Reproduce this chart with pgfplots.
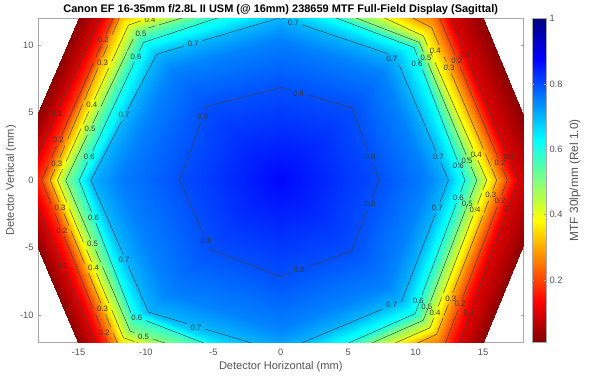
\documentclass[border=0pt]{standalone}
\usepackage{fontspec}
\setmainfont{Liberation Sans}
\usepackage{pgfplots}
\usepackage{pgfplotstable}
\pgfplotsset{compat=1.18}
\definecolor{axgray}{gray}{0.66}
\definecolor{txtgray}{gray}{0.33}
% rings: T TR R BR B BL L TL T
\pgfplotstableread{
x y z
0 0 0.87
0 0 0.87
0 0 0.87
0 0 0.87
0 0 0.87
0 0 0.87
0 0 0.87
0 0 0.87
0 0 0.87
0 6.88 0.8
5.26 5.4 0.8
7.3 0 0.8
5.26 -5.25 0.8
0 -7.15 0.8
-5.24 -5.12 0.8
-7.5 0 0.8
-5.5 5.47 0.8
0 6.88 0.8
0 10.51 0.75
7.53 8.06 0.75
10.89 0 0.75
7.86 -7.85 0.75
0 -11.05 0.75
-8.44 -8.38 0.75
-12.11 0 0.75
-8.09 8.19 0.75
0 10.51 0.75
0 12.07 0.7
8.5 9.2 0.7
12.43 0 0.7
8.97 -8.96 0.7
0 -12.72 0.7
-9.81 -9.78 0.7
-14.08 0 0.7
-9.2 9.35 0.7
0 12.07 0.7
0 13.6 0.6
9.88 9.85 0.6
13.66 0 0.6
9.96 -9.9 0.6
0 -14.3 0.6
-11.05 -10.0 0.6
-14.95 0 0.6
-10.18 10.22 0.6
0 13.6 0.6
0 14.2 0.5
10.28 10.22 0.5
14.53 0 0.5
10.57 -10.39 0.5
0 -15.05 0.5
-11.17 -11.19 0.5
-15.94 0 0.5
-10.68 11.04 0.5
0 14.2 0.5
0 15.6 0.4
10.57 10.71 0.4
15.27 0 0.4
11.07 -10.94 0.4
0 -15.8 0.4
-11.67 -11.68 0.4
-16.56 0 0.4
-11.3 11.5 0.4
0 15.6 0.4
0 17 0.3
11.19 11.33 0.3
16.01 0 0.3
11.56 -11.43 0.3
0 -16.7 0.3
-11.9 -12.6 0.3
-17.1 0 0.3
-11.9 12.2 0.3
0 17 0.3
0 19 0.2
11.3 13.2 0.2
16.8 0 0.2
11.9 -12.9 0.2
0 -18.7 0.2
-12.1 -14 0.2
-17.74 0 0.2
-12 13 0.2
0 19 0.2
0 21 0.1
11.78 14 0.1
17.6 0 0.1
12.5 -14.2 0.1
0 -21 0.1
-12.8 -14.2 0.1
-18.9 0 0.1
-12.5 14 0.1
0 21 0.1
0 23 0.02
13.5 15.6 0.02
20 0 0.02
13.5 -15.6 0.02
0 -23 0.02
-13.5 -15.7 0.02
-20.14 0 0.02
-13.5 15.5 0.02
0 23 0.02
}\ringtable
\newcommand{\ringline}[1]{\addplot[black!75,line width=0.45pt,forget plot] coordinates {#1};}
\newcommand{\lbl}[3]{\node[font=\fontsize{7.8}{9}\selectfont,text=black!78,inner sep=0pt] at (axis cs:#1,#2) {#3};}
\newcommand{\hole}[2]{(axis cs:#1-0.68,#2-0.42) rectangle (axis cs:#1+0.68,#2+0.42)}
\begin{document}
\begin{tikzpicture}[x=1bp,y=1bp]
\path[use as bounding box] (0,0) rectangle (600,375);
\begin{axis}[
  at={(38bp,33bp)},anchor=south west,
  scale only axis,width=485.5bp,height=323.5bp,
  xmin=-18,xmax=18,ymin=-12,ymax=12,
  xtick={-15,-10,-5,0,5,10,15},ytick={-10,-5,0,5,10},
  xticklabels={-15,-10,-5,0,5,10,15},yticklabels={-10,-5,0,5,10},
  tick align=inside,major tick length=3bp,
  tick style={axgray,line width=0.5pt},
  axis line style={axgray,line width=0.9pt},
  tick label style={font=\fontsize{9.3}{10}\selectfont,text=txtgray},
  xticklabel style={yshift=-3.5bp},
  yticklabel style={xshift=-1bp},
  title={\fontsize{11}{12}\selectfont\bfseries Canon EF 16-35mm f/2.8L II USM (@ 16mm) 238659 MTF Full-Field Display (Sagittal)},
  title style={at={(0.5,1)},anchor=south,yshift=-3bp,inner sep=0pt},
  xlabel={Detector Horizontal (mm)},ylabel={Detector Vertical (mm)},
  label style={font=\fontsize{11.1}{12}\selectfont,text=txtgray},
  xlabel style={at={(0.5,0)},anchor=center,yshift=-25bp},
  ylabel style={at={(0,0.5)},anchor=center,yshift=27bp},
  colormap={rjet}{rgb255(0cm)=(128,0,0); rgb255(1cm)=(255,0,0); rgb255(3cm)=(255,255,0); rgb255(5cm)=(0,255,255); rgb255(7cm)=(0,0,255); rgb255(8cm)=(0,0,128)},
  point meta min=0.01,point meta max=1,
  colorbar,
  colorbar style={
    at={(1.0175,0)},anchor=south west,width=14bp,height=323.5bp,
    ytick={0.2,0.4,0.6,0.8,1},yticklabels={0.2,0.4,0.6,0.8,1},
    yticklabel pos=right,tick align=inside,major tick length=2bp,
    axis line style={axgray,line width=0.7pt},
    tick style={axgray,line width=0.5pt},
    ylabel={MTF 30lp/mm (Rel 1.0)},
    ylabel style={at={(1,0.5)},anchor=center,yshift=-29bp,font=\fontsize{11.9}{13}\selectfont,text=txtgray},
  },
]
\addplot[surf,shader=interp,mesh/cols=9,point meta=explicit,forget plot] table[x=x,y=y,meta=z] {\ringtable};
\begin{scope}[even odd rule]
\clip (axis cs:-30,-30) rectangle (axis cs:30,30)
\hole{-16.6}{4.95} \hole{-13.15}{10.42} \hole{-16.49}{2.97} \hole{-13.22}{8.74} \hole{-16.6}{1.24}
\hole{-14.01}{5.57} \hole{-9.69}{11.88} \hole{-14.14}{3.79} \hole{-10.36}{10.89} \hole{-14.19}{1.76}
\hole{-10.73}{9.18} \hole{-11.62}{4.83} \hole{-6.48}{10.1} \hole{0.93}{11.66} \hole{8.23}{8.98}
\hole{-5.78}{4.73} \hole{1.3}{6.44} \hole{6.62}{1.73} \hole{-5.54}{-4.5} \hole{1.36}{-6.68} \hole{6.62}{-1.73}
\hole{-6.28}{-10.94} \hole{8.23}{-9.26} \hole{-16.36}{-2.03} \hole{-16.23}{-3.76} \hole{-16.19}{-6.36}
\hole{-13.89}{-6.48} \hole{-13.96}{-4.75} \hole{-13.89}{-2.77} \hole{-11.62}{-5.94} \hole{-10.67}{-10.24}
\hole{-10.18}{-11.6} \hole{-13.22}{-9.53} \hole{-13.1}{-11.3}
\hole{13.71}{9.3} \hole{13.05}{8.86} \hole{12.48}{8.37} \hole{11.45}{9.6} \hole{10.77}{9.11} \hole{10.1}{8.62}
\hole{11.68}{1.73} \hole{13.17}{1.06} \hole{13.82}{1.45} \hole{14.5}{1.92} \hole{16.26}{1.31} \hole{16.93}{1.76}
\hole{13.17}{-1.28} \hole{13.83}{-1.78} \hole{14.4}{-2.2} \hole{15.57}{-1.11} \hole{16.26}{-1.54} \hole{16.87}{-2.15}
\hole{11.61}{-2.03} \hole{10.2}{-8.95} \hole{10.82}{-9.4} \hole{11.44}{-9.8} \hole{12.6}{-8.78} \hole{13.29}{-9.2} \hole{13.96}{-9.82};
\ringline{(0,6.88)(5.26,5.4)(7.3,0)(5.26,-5.25)(0,-7.15)(-5.24,-5.12)(-7.5,0)(-5.5,5.47)(0,6.88)}
\ringline{(0,12.07)(8.5,9.2)(12.43,0)(8.97,-8.96)(0,-12.72)(-9.81,-9.78)(-14.08,0)(-9.2,9.35)(0,12.07)}
\ringline{(0,13.6)(9.88,9.85)(13.66,0)(9.96,-9.9)(0,-14.3)(-11.05,-10)(-14.95,0)(-10.18,10.22)(0,13.6)}
\ringline{(0,14.2)(10.28,10.22)(14.53,0)(10.57,-10.39)(0,-15.05)(-11.17,-11.19)(-15.94,0)(-10.68,11.04)(0,14.2)}
\ringline{(0,15.6)(10.57,10.71)(15.27,0)(11.07,-10.94)(0,-15.8)(-11.67,-11.68)(-16.56,0)(-11.3,11.5)(0,15.6)}
\ringline{(0,17)(11.19,11.33)(16.01,0)(11.56,-11.43)(0,-16.7)(-11.9,-12.6)(-17.1,0)(-11.9,12.2)(0,17)}
\ringline{(0,19)(11.3,13.2)(16.8,0)(11.9,-12.9)(0,-18.7)(-12.1,-14)(-17.74,0)(-12,13)(0,19)}
\ringline{(0,21)(11.78,14)(17.6,0)(12.5,-14.2)(0,-21)(-12.8,-14.2)(-18.9,0)(-12.5,14)(0,21)}
\end{scope}
\lbl{-16.6}{4.95}{0.1}\lbl{-13.15}{10.42}{0.2}\lbl{-16.49}{2.97}{0.2}\lbl{-13.22}{8.74}{0.3}\lbl{-16.6}{1.24}{0.3}
\lbl{-14.01}{5.57}{0.4}\lbl{-9.69}{11.88}{0.4}\lbl{-14.14}{3.79}{0.5}\lbl{-10.36}{10.89}{0.5}\lbl{-14.19}{1.76}{0.6}
\lbl{-10.73}{9.18}{0.6}\lbl{-11.62}{4.83}{0.7}\lbl{-6.48}{10.1}{0.7}\lbl{0.93}{11.66}{0.7}\lbl{8.23}{8.98}{0.7}
\lbl{-5.78}{4.73}{0.8}\lbl{1.3}{6.44}{0.8}\lbl{6.62}{1.73}{0.8}\lbl{-5.54}{-4.5}{0.8}\lbl{1.36}{-6.68}{0.8}\lbl{6.62}{-1.73}{0.8}
\lbl{-6.28}{-10.94}{0.7}\lbl{8.23}{-9.26}{0.7}\lbl{-16.36}{-2.03}{0.3}\lbl{-16.23}{-3.76}{0.2}\lbl{-16.19}{-6.36}{0.1}
\lbl{-13.89}{-6.48}{0.4}\lbl{-13.96}{-4.75}{0.5}\lbl{-13.89}{-2.77}{0.6}\lbl{-11.62}{-5.94}{0.7}\lbl{-10.67}{-10.24}{0.6}
\lbl{-10.18}{-11.6}{0.5}\lbl{-13.22}{-9.53}{0.3}\lbl{-13.1}{-11.3}{0.2}
\lbl{13.71}{9.3}{0.1}\lbl{13.05}{8.86}{0.2}\lbl{12.48}{8.37}{0.3}\lbl{11.45}{9.6}{0.4}\lbl{10.77}{9.11}{0.5}\lbl{10.1}{8.62}{0.6}
\lbl{11.68}{1.73}{0.7}\lbl{13.17}{1.06}{0.6}\lbl{13.82}{1.45}{0.5}\lbl{14.5}{1.92}{0.4}\lbl{16.26}{1.31}{0.2}\lbl{16.93}{1.76}{0.1}
\lbl{13.17}{-1.28}{0.6}\lbl{13.83}{-1.78}{0.5}\lbl{14.4}{-2.2}{0.4}\lbl{15.57}{-1.11}{0.3}\lbl{16.26}{-1.54}{0.2}\lbl{16.87}{-2.15}{0.1}
\lbl{11.61}{-2.03}{0.7}\lbl{10.2}{-8.95}{0.6}\lbl{10.82}{-9.4}{0.5}\lbl{11.44}{-9.8}{0.4}\lbl{12.6}{-8.78}{0.3}\lbl{13.29}{-9.2}{0.2}\lbl{13.96}{-9.82}{0.1}
\end{axis}
\end{tikzpicture}
\end{document}
